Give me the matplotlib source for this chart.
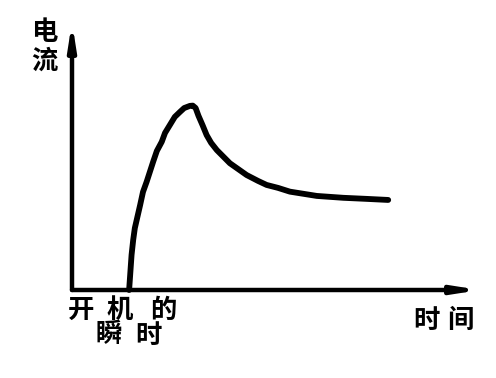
import matplotlib
matplotlib.use("Agg")
import matplotlib.pyplot as plt

plt.rcParams['font.family'] = ['Noto Sans CJK SC', 'DejaVu Sans']

# time / current (axis units 0..100)
t = [14.0, 14.6, 15.0, 15.4, 16.7, 17.4, 18.3, 19.9, 20.8, 22.0, 22.8,
     24.0, 25.2, 26.5, 27.5, 28.9, 29.6, 30.3, 31.0, 32.0, 33.0, 34.1,
     35.5, 38.7, 42.8, 45.6, 47.7, 50.5, 53.4, 60.0, 66.5, 72.2, 77.5]
current = [0.0, 13.1, 18.7, 23.1, 31.7, 36.6, 40.4, 47.9, 51.9, 55.3, 58.6,
           61.6, 64.6, 66.5, 67.9, 68.7, 68.8, 67.9, 65.0, 61.5, 57.8, 54.9,
           52.2, 47.3, 42.9, 40.7, 39.2, 38.1, 36.7, 35.1, 34.4, 34.0, 33.6]

y_label = ["电", "流"]
x_label = ["时", "间"]
start_label = [["开", "机", "的"], ["瞬", "时"]]

W, H = 496, 378
fig = plt.figure(figsize=(W / 100, H / 100), dpi=100)
ax = fig.add_axes([72 / W, 88 / H, 408 / W, 268 / H])
ax.set_xlim(0, 100)
ax.set_ylim(0, 100)
ax.axis("off")

# axes drawn as arrows
arrow = dict(arrowstyle="-|>,head_length=1.4,head_width=0.22", lw=3.2,
             color="black", shrinkA=0, shrinkB=0)
ax.annotate("", xy=(0, 1), xytext=(0, 0), xycoords="axes fraction",
            arrowprops=arrow)
ax.annotate("", xy=(1, 0), xytext=(0, 0), xycoords="axes fraction",
            arrowprops=arrow)

ax.plot(t, current, color="black", lw=4.2, solid_capstyle="round",
        solid_joinstyle="round", clip_on=False)


def put(ch, x, y):
    fig.text(x / W, 1 - y / H, ch, fontsize=19, fontweight="bold",
             ha="center", va="center")


for ch, y in zip(y_label, [33, 61]):
    put(ch, 44, y)

for ch, x in zip(start_label[0], [81, 120, 163]):
    put(ch, x, 310)
for ch, x in zip(start_label[1], [109, 148]):
    put(ch, x, 335)

for ch, x in zip(x_label, [426, 460]):
    put(ch, x, 320)

fig.savefig("out.png", dpi=100, facecolor="white")
